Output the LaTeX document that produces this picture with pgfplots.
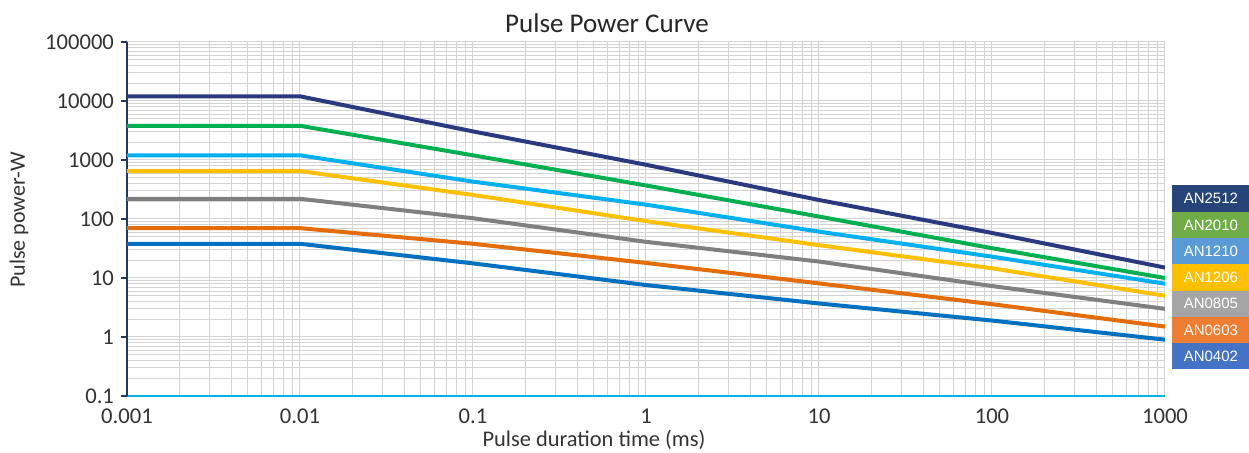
\documentclass[border=0pt]{standalone}
\usepackage{fontspec}
\setmainfont{Carlito}
\newfontfamily\legendfont{Liberation Sans}
\usepackage{pgfplots}
\pgfplotsset{compat=1.18}

% line colours
\definecolor{c2512}{HTML}{2B3A80}
\definecolor{c2010}{HTML}{00B050}
\definecolor{c1210}{HTML}{00B0F0}
\definecolor{c1206}{HTML}{FFC000}
\definecolor{c0805}{HTML}{808080}
\definecolor{c0603}{HTML}{E46C0A}
\definecolor{c0402}{HTML}{0070C0}
% legend box colours
\definecolor{l2512}{HTML}{264478}
\definecolor{l2010}{HTML}{70AD47}
\definecolor{l1210}{HTML}{5B9BD5}
\definecolor{l1206}{HTML}{FFC000}
\definecolor{l0805}{HTML}{A5A5A5}
\definecolor{l0603}{HTML}{ED7D31}
\definecolor{l0402}{HTML}{4472C4}
\definecolor{gridc}{HTML}{D4D4D4}
\definecolor{yaxisc}{HTML}{1F3864}
\definecolor{xaxisc}{HTML}{00B0F0}

\begin{document}
\begin{tikzpicture}[x=1pt,y=1pt]
\useasboundingbox (-63.5,-28.5) rectangle (561,198);

\begin{axis}[
    at={(0pt,0pt)}, anchor=south west,
    scale only axis,
    width=519pt, height=177pt,
    xmode=log, ymode=log,
    xmin=0.001, xmax=1000,
    ymin=0.1, ymax=100000,
    xtick={0.001,0.01,0.1,1,10,100,1000},
    xticklabels={0.001,0.01,0.1,1,10,100,1000},
    ytick={0.1,1,10,100,1000,10000,100000},
    yticklabels={0.1,1,10,100,1000,10000,100000},
    axis lines*=left,
    x axis line style={draw=xaxisc, line width=1pt},
    y axis line style={draw=yaxisc, line width=1pt},
    grid=both,
    major grid style={draw=gridc, line width=0.5pt},
    minor grid style={draw=gridc, line width=0.5pt},
    tick align=outside,
    xtick style={draw=none},
    ytick style={draw=yaxisc, line width=0.8pt},
    major tick length=3pt,
    minor tick length=0pt,
    tick label style={font=\fontsize{11.3}{13}\selectfont, text=black!80},
    every axis plot/.append style={line width=2pt, mark=none},
]

% AN2512
\addplot[c2512] coordinates {
    (0.001,12000) (0.01,12000) (0.1,3050) (1,830) (10,210) (100,58) (1000,15)
};
% AN2010
\addplot[c2010] coordinates {
    (0.001,3800) (0.01,3800) (0.1,1200) (1,370) (10,110) (100,32) (1000,10)
};
% AN1210
\addplot[c1210] coordinates {
    (0.001,1200) (0.01,1200) (0.1,430) (1,175) (10,61) (100,23) (1000,8)
};
% AN1206
\addplot[c1206] coordinates {
    (0.001,650) (0.01,650) (0.1,255) (1,92) (10,36) (100,14.6) (1000,5)
};
% AN0805
\addplot[c0805] coordinates {
    (0.001,220) (0.01,220) (0.1,103) (1,41) (10,19) (100,7.3) (1000,3)
};
% AN0603
\addplot[c0603] coordinates {
    (0.001,70) (0.01,70) (0.1,38) (1,18) (10,8.1) (100,3.6) (1000,1.5)
};
% AN0402
\addplot[c0402] coordinates {
    (0.001,38) (0.01,38) (0.1,17.7) (1,7.6) (10,3.7) (100,1.9) (1000,0.9)
};

\end{axis}

% title and axis labels
\node[anchor=base, font=\fontsize{13.5}{16}\selectfont, text=black!85] at (240,181.5) {Pulse Power Curve};
\node[anchor=base, font=\fontsize{11.2}{13}\selectfont, text=black!80] at (233.5,-25.5) {Pulse duration time (ms)};
\node[anchor=base, rotate=90, font=\fontsize{11}{13}\selectfont, text=black!80] at (-51,88) {Pulse power-W};

% legend boxes
\tikzset{legbox/.style={anchor=north west, minimum width=38.5pt, minimum height=13.15pt,
    inner sep=0pt, text=white, font=\legendfont\fontsize{7.5}{9}\selectfont}}
\node[legbox, fill=l2512] at (522.5,105.5) {AN2512};
\node[legbox, fill=l2010] at (522.5,92.35) {AN2010};
\node[legbox, fill=l1210] at (522.5,79.2) {AN1210};
\node[legbox, fill=l1206] at (522.5,66.05) {AN1206};
\node[legbox, fill=l0805] at (522.5,52.9) {AN0805};
\node[legbox, fill=l0603] at (522.5,39.75) {AN0603};
\node[legbox, fill=l0402] at (522.5,26.6) {AN0402};

\end{tikzpicture}
\end{document}
